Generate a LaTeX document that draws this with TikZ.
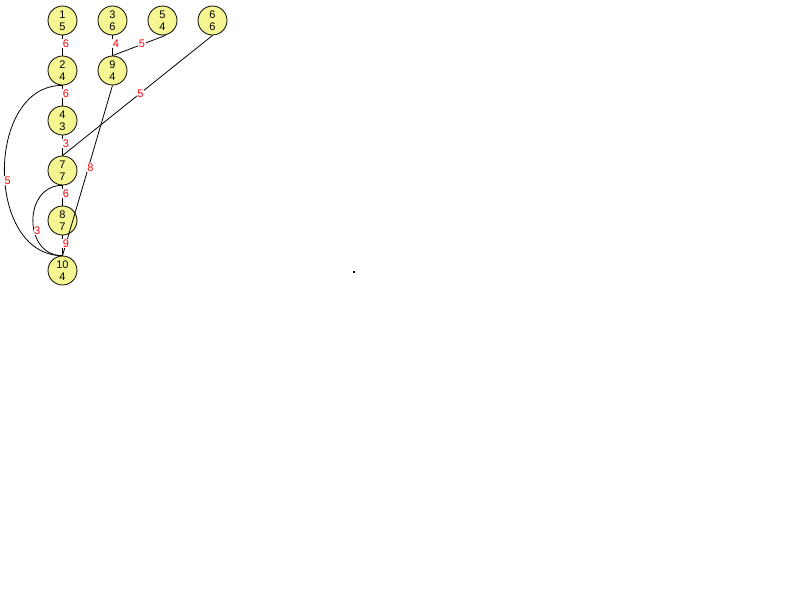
\documentclass[tikz,border=0pt]{standalone}
\usepackage{fontspec}
\setmainfont{Liberation Sans}
\definecolor{nodefill}{RGB}{245,245,145}
\begin{document}
\begin{tikzpicture}[x=1pt,y=-1pt,
  vtx/.style={circle,draw=black,line width=0.8pt,fill=nodefill,minimum size=29pt,inner sep=0pt,align=center,font=\fontsize{11}{12}\selectfont},
  wt/.style={text=red,fill=white,inner sep=0.5pt,font=\fontsize{11}{12}\selectfont},
  edge/.style={draw=black,line width=0.8pt}]
\path[use as bounding box] (0,0) rectangle (800,600);
\node[vtx] (n1) at (62.5,20.5) {1\\5};
\node[vtx] (n3) at (112.5,20.5) {3\\6};
\node[vtx] (n5) at (162.5,20.5) {5\\4};
\node[vtx] (n6) at (212.5,20.5) {6\\6};
\node[vtx] (n2) at (62.5,70.5) {2\\4};
\node[vtx] (n9) at (112.5,70.5) {9\\4};
\node[vtx] (n4) at (62.5,120.5) {4\\3};
\node[vtx] (n7) at (62.5,170.5) {7\\7};
\node[vtx] (n8) at (62.5,220.5) {8\\7};
\node[vtx] (n10) at (62.5,270.5) {10\\4};
% straight edges
\draw[edge] (n1.south) -- node[wt,midway,xshift=3.5pt,yshift=2pt] {6} (n2.north);
\draw[edge] (n3.south) -- node[wt,midway,xshift=3.5pt,yshift=2pt] {4} (n9.north);
\draw[edge] ([xshift=3pt]n5.south) -- node[wt,midway,xshift=3pt,yshift=2pt] {5} (n9.north);
\draw[edge] (n2.south) -- node[wt,midway,xshift=3.5pt,yshift=2pt] {6} (n4.north);
\draw[edge] (n6.south) -- node[wt,midway,xshift=3pt,yshift=2pt] {5} (n7.north);
\draw[edge] (n4.south) -- node[wt,midway,xshift=3.5pt,yshift=2pt] {3} (n7.north);
\draw[edge] (n9.south) -- node[wt,midway,xshift=3pt,yshift=3pt] {8} (n10.north);
\draw[edge] (n7.south) -- node[wt,midway,xshift=3.5pt,yshift=2pt] {6} (n8.north);
\draw[edge] (n8.south) -- node[wt,midway,xshift=3.5pt,yshift=2pt] {9} (n10.north);
% curved edges
\draw[edge] (n2.south) .. controls (-15,85) and (-15,256) .. node[wt,pos=0.54,xshift=3pt] {5} (n10.north);
\draw[edge] (n7.south) .. controls (23,185) and (23,256) .. node[wt,pos=0.6,xshift=3pt] {3} (n10.north);
% stray dot
\fill[black] (352.5,271) rectangle (354.5,273);
\end{tikzpicture}
\end{document}
